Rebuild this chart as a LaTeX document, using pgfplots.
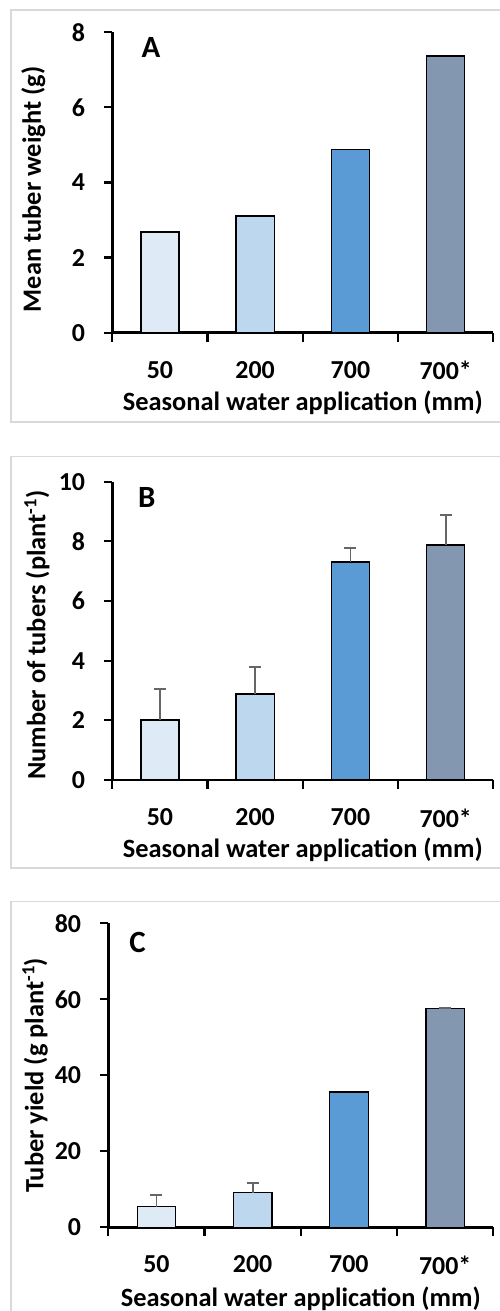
\documentclass[border=0pt]{standalone}
\usepackage{pgfplots}
\pgfplotsset{compat=1.18}
\usepackage{fontspec}
\setmainfont{Carlito}
\definecolor{cA}{HTML}{DEEBF7}
\definecolor{cB}{HTML}{BDD7EE}
\definecolor{cC}{HTML}{5B9BD5}
\definecolor{cD}{HTML}{8497B0}
\definecolor{errc}{HTML}{666666}
\definecolor{framec}{HTML}{D9D9D9}
\newcommand{\tickfont}{\fontsize{26}{30}\selectfont\bfseries}
\newcommand{\lblfont}{\fontsize{26.5}{30}\selectfont\bfseries}
\newcommand{\panfont}{\fontsize{31}{34}\selectfont\bfseries}
\pgfplotsset{
 panel/.style={
  scale only axis, axis lines=left, axis line style={-, line width=2.4bp, black},
  xmin=-0.5, xmax=3.5, ymin=0,
  xtick={0,1,2,3}, xticklabels={50,200,700,700*},
  minor xtick={-0.5,0.5,1.5,2.5,3.5},
  tick align=outside, major tick length=8bp, minor tick length=9bp,
  every tick/.style={black, line width=2.2bp},
  major x tick style={draw=none},
  tick label style={font=\tickfont},
  xticklabel style={yshift=-17bp},
  yticklabel style={anchor=east, inner xsep=19bp},
  clip=false,
  label style={font=\lblfont},
 },
 mybar/.style={ybar, bar width=0.4, bar shift=0pt, draw=black, line width=1.3bp, fill=#1},
 myerr/.style={error bars/.cd, y dir=plus, y explicit,
   error bar style={color=errc, line width=1.8bp},
   error mark options={color=errc, line width=1.8bp, rotate=90, mark size=6bp}},
}
\begin{document}
\begin{tikzpicture}
\useasboundingbox (0,0) rectangle (500bp,1311bp);
% frames
\draw[framec, line width=1.5bp] (500bp,1301bp) -- (11bp,1301bp) -- (11bp,889bp) -- (500bp,889bp);
\draw[framec, line width=1.5bp] (500bp,854.3bp) -- (11bp,854.3bp) -- (11bp,443bp) -- (500bp,443bp);
\draw[framec, line width=1.5bp] (500bp,409.3bp) -- (11bp,409.3bp) -- (11bp,0bp);

% Panel A
\begin{axis}[panel, at={(112.3bp,978.3bp)}, anchor=south west,
  width=381bp, height=300.4bp, ymax=8,
  ytick={0,2,4,6,8}, yticklabels={0,2,4,6,8},
  ylabel={Mean tuber weight (g)},
  xlabel={Seasonal water application (mm)},
  ylabel style={at={(axis description cs:-0.207,0.477)}, anchor=center},
  xlabel style={at={(axis description cs:0.5,-0.234)}, anchor=center}]
\addplot[mybar=cA] coordinates {(0,2.68)};
\addplot[mybar=cB] coordinates {(1,3.11)};
\addplot[mybar=cC] coordinates {(2,4.87)};
\addplot[mybar=cD] coordinates {(3,7.37)};
\node[font=\panfont] at (axis cs:-0.094,7.59) {A};
\end{axis}

% Panel B
\begin{axis}[panel, at={(112.3bp,531bp)}, anchor=south west,
  width=381bp, height=298.3bp, ymax=10,
  ytick={0,2,4,6,8,10}, yticklabels={0,2,4,6,8,10},
  ylabel={Number of tubers (plant\textsuperscript{-1})},
  xlabel={Seasonal water application (mm)},
  ylabel style={at={(axis description cs:-0.198,0.486)}, anchor=center},
  xlabel style={at={(axis description cs:0.5,-0.235)}, anchor=center}]
\addplot[mybar=cA, myerr] coordinates {(0,2.01) +- (0,1.05)};
\addplot[mybar=cB, myerr] coordinates {(1,2.88) +- (0,0.91)};
\addplot[mybar=cC, myerr] coordinates {(2,7.31) +- (0,0.46)};
\addplot[mybar=cD, myerr] coordinates {(3,7.88) +- (0,0.99)};
\node[font=\panfont] at (axis cs:-0.139,9.47) {B};
\end{axis}

% Panel C
\begin{axis}[panel, at={(108.3bp,83.7bp)}, anchor=south west,
  width=385bp, height=304bp, ymax=80,
  ytick={0,20,40,60,80}, yticklabels={0,20,40,60,80},
  ylabel={Tuber yield (g plant\textsuperscript{-1})},
  xlabel={Seasonal water application (mm)},
  ylabel style={at={(axis description cs:-0.19,0.5)}, anchor=center},
  xlabel style={at={(axis description cs:0.5,-0.234)}, anchor=center}]
\addplot[mybar=cA, myerr] coordinates {(0,5.4) +- (0,3.1)};
\addplot[mybar=cB, myerr] coordinates {(1,9.1) +- (0,2.5)};
\addplot[mybar=cC] coordinates {(2,35.6)};
\addplot[mybar=cD, myerr] coordinates {(3,57.6) +- (0,0.2)};
\node[font=\panfont] at (axis cs:-0.197,74.9) {C};
\end{axis}
\end{tikzpicture}
\end{document}
